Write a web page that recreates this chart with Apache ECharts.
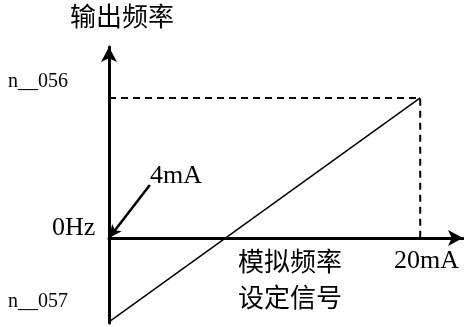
<!DOCTYPE html>
<html>
<head>
<meta charset="utf-8">
<script src="https://cdn.jsdelivr.net/npm/echarts@6/dist/echarts.min.js"></script>
<style>
  html, body { margin: 0; padding: 0; background: #fff; }
  #chart { width: 464px; height: 327px; }
</style>
</head>
<body>
<div id="chart"></div>
<script>
  // signal (mA) vs output frequency
  const signalRange = [4, 20]
  const freqLine = [-30, 50]      // n__057 at 4mA, n__056 at 20mA
  const freqTop = 50
  const arrowFrom = [6.1, 18.9]   // 4mA pointer start

  const chart = echarts.init(document.getElementById('chart'))
  const serif = '"Liberation Serif", "Times New Roman", serif'
  const cjk = '"Noto Sans CJK SC", sans-serif'

  const option = {
    animation: false,
    grid: { left: 109, right: 1, top: 47, bottom: 4 },
    xAxis: {
      type: 'value', min: 4, max: 22.2,
      axisLine: { onZero: true, symbol: ['none', 'arrow'], symbolSize: [12, 15], lineStyle: { color: '#000', width: 3 } },
      axisTick: { show: false }, axisLabel: { show: false }, splitLine: { show: false }
    },
    yAxis: {
      type: 'value', min: -30.4, max: 68.2,
      axisLine: { show: true, onZero: false, symbol: ['none', 'arrow'], symbolSize: [12, 15], lineStyle: { color: '#000', width: 3 } },
      axisTick: { show: false }, axisLabel: { show: false }, splitLine: { show: false }
    },
    series: [{
      type: 'line',
      data: [[signalRange[0], freqLine[0]], [signalRange[1], freqLine[1]]],
      symbol: 'none',
      lineStyle: { color: '#000', width: 1.5 },
      markLine: {
        silent: true,
        symbol: ['none', 'arrow'],
        symbolSize: [9, 13],
        label: { show: false },
        lineStyle: { color: '#000', width: 2.5, type: 'solid' },
        data: [[{ coord: arrowFrom }, { coord: [signalRange[0], 0] }]]
      }
    }, {
      type: 'line',
      data: [[signalRange[0], freqTop], [signalRange[1], freqTop], [signalRange[1], 0]],
      symbol: 'none',
      lineStyle: { color: '#000', width: 2, type: [7, 5] }
    }],
    graphic: [
      { type: 'text', left: 70, top: 3, style: { text: '输出频率', font: '26px ' + cjk, fill: '#000' } },
      { type: 'text', left: 8, top: 72, style: { text: 'n__056', font: '20px ' + serif, fill: '#000' } },
      { type: 'text', left: 8, top: 292, style: { text: 'n__057', font: '20px ' + serif, fill: '#000' } },
      { type: 'text', left: 52, top: 215, style: { text: '0Hz', font: '26px ' + serif, fill: '#000' } },
      { type: 'text', left: 150, top: 163, style: { text: '4mA', font: '26px ' + serif, fill: '#000' } },
      { type: 'text', left: 394, top: 248, style: { text: '20mA', font: '26px ' + serif, fill: '#000' } },
      { type: 'text', left: 238, top: 248, style: { text: '模拟频率', font: '26px ' + cjk, fill: '#000' } },
      { type: 'text', left: 238, top: 284, style: { text: '设定信号', font: '26px ' + cjk, fill: '#000' } }
    ]
  }
  chart.setOption(option)
</script>
</body>
</html>
